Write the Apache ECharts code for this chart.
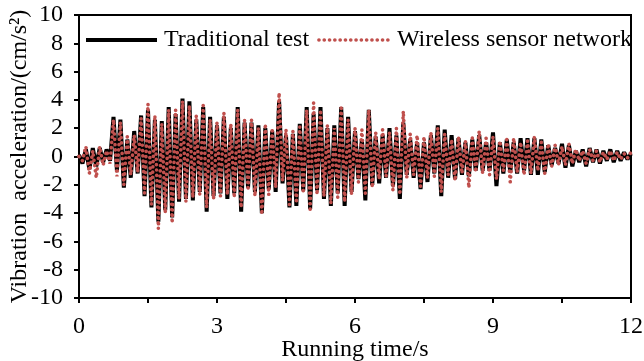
<!DOCTYPE html>
<html><head><meta charset="utf-8">
<script src="https://cdn.jsdelivr.net/npm/echarts@6/dist/echarts.min.js"></script>
<style>html,body{margin:0;padding:0;background:#fff}#c{width:644px;height:361px}</style>
</head><body><div id="c"></div>
<script>
// sampling step of the records (s)
const timeStep = 0.075;
// Traditional test (black solid line), cm/s^2
const traditional = [
  0.1, -0.5, 0.5, -0.9, 0.6, -0.7, 0.6, -0.4, 0.5, -0.3, 2.8, -1.0, 2.6, -2.2, 1.2, -1.5, 1.8, -1.2, 2.9, -2.8,
  3.3, -3.6, 2.6, -4.6, 2.5, -3.8, 3.5, -4.3, 3.0, -3.2, 4.1, -3.0, 3.9, -3.1, 2.6, -2.5, 3.5, -3.9, 2.8, -2.8,
  2.2, -2.6, 2.8, -3.0, 2.0, -2.6, 3.5, -3.9, 2.4, -2.2, 2.4, -2.5, 2.2, -4.0, 2.0, -2.3, 1.8, -2.5, 3.9, -1.9,
  1.5, -3.6, 1.6, -3.5, 2.3, -2.4, 3.5, -3.7, 3.0, -2.4, 3.5, -3.0, 2.0, -3.5, 2.2, -2.6, 3.5, -3.5, 2.8, -2.5,
  1.8, -1.6, 1.2, -3.1, 3.3, -2.0, 1.4, -1.9, 1.5, -1.5, 2.0, -2.1, 1.5, -3.0, 2.4, -1.3, 1.2, -1.5, 1.0, -2.3,
  1.0, -1.8, 1.5, -1.2, 2.2, -2.8, 1.9, -1.5, 1.5, -1.6, 1.3, -1.3, 1.0, -1.4, 1.2, -1.0, 1.5, -1.0, 1.0, -1.0,
  1.7, -2.1, 1.0, -1.2, 1.2, -1.1, 1.0, -1.2, 1.3, -1.0, 1.3, -1.3, 1.3, -1.3, 1.2, -1.1, 0.8, -0.6, 0.6, -0.5,
  0.9, -0.8, 0.8, -0.7, 0.4, -0.4, 0.5, -0.7, 0.6, -0.4, 0.5, -0.5, 0.4, -0.3, 0.5, -0.4, 0.4, -0.3, 0.3, -0.2, 0.2
];
// Wireless sensor network (red dotted line), cm/s^2
const wireless = [
  0.0, -0.3, 0.7, -1.2, 0.4, -1.5, 0.7, -0.6, 0.4, -0.5, 2.6, -1.4, 2.4, -2.0, 1.4, -1.3, 1.5, -1.1, 2.7, -2.6,
  3.7, -3.4, 2.9, -5.1, 2.3, -4.0, 3.3, -4.7, 3.3, -3.0, 3.9, -3.2, 3.6, -2.9, 2.9, -2.7, 3.6, -3.6, 2.6, -3.0,
  2.4, -2.8, 3.1, -2.7, 2.3, -2.9, 3.3, -3.6, 2.6, -2.4, 2.6, -2.8, 2.0, -4.1, 2.3, -2.7, 2.0, -2.2, 4.5, -1.7,
  1.9, -3.4, 1.8, -3.3, 2.1, -2.6, 3.3, -3.9, 3.8, -2.7, 3.3, -2.8, 2.2, -3.3, 2.0, -2.9, 3.6, -3.2, 2.6, -2.7,
  2.0, -1.8, 1.9, -2.6, 3.3, -2.2, 1.7, -1.6, 1.9, -1.4, 1.7, -2.4, 2.0, -2.7, 3.2, -1.5, 1.6, -1.3, 1.5, -2.1,
  1.4, -1.5, 1.7, -1.4, 2.0, -2.5, 1.6, -1.3, 1.2, -1.7, 1.4, -1.2, 1.1, -2.2, 1.3, -1.1, 1.8, -1.2, 1.3, -1.3,
  1.4, -1.6, 1.1, -1.0, 1.2, -1.8, 1.3, -1.1, 1.0, -1.3, 1.1, -1.2, 1.4, -1.0, 1.0, -1.2, 0.9, -0.7, 0.8, -0.6,
  0.7, -0.6, 0.9, -0.5, 0.5, -0.3, 0.4, -0.5, 0.5, -0.3, 0.4, -0.4, 0.3, -0.2, 0.4, -0.3, 0.3, -0.2, 0.2, -0.1, 0.3
];
const seriesNames = ['Traditional test', 'Wireless sensor network'];
const xLabels = [0, 3, 6, 9, 12];
const yLabels = [-10, -8, -6, -4, -2, 0, 2, 4, 6, 8, 10];

const time = traditional.map((_, i) => +(i * timeStep).toFixed(3));
const pairs = arr => arr.map((v, i) => [time[i], v]);
const FONT = "'Liberation Serif', 'Times New Roman', serif";

const chart = echarts.init(document.getElementById('c'), null, {renderer: 'canvas'});
chart.setOption({
  animation: false,
  backgroundColor: '#fff',
  textStyle: {fontFamily: FONT, color: '#000'},
  grid: {left: 79, right: 13, top: 15, bottom: 63, show: true, borderColor: '#000', borderWidth: 2,
         containLabel: false, outerBoundsMode: 'none'},
  legend: {
    left: 84, top: 28, padding: 0, itemWidth: 71, itemHeight: 14, itemGap: 8,
    textStyle: {fontFamily: FONT, fontSize: 24, color: '#000', padding: [0, 0, 0, 2]},
    itemStyle: {opacity: 0},
    lineStyle: {width: 'inherit'},
    data: seriesNames
  },
  xAxis: {
    type: 'value', min: 0, max: 12, interval: 1.5,
    name: 'Running time/s', nameLocation: 'middle', nameGap: 40, nameMoveOverlap: false,
    nameTextStyle: {fontFamily: FONT, fontSize: 24, color: '#000'},
    axisLine: {show: true, onZero: false, lineStyle: {color: '#000', width: 2}},
    axisTick: {show: true, inside: false, length: 5, lineStyle: {color: '#000', width: 2}},
    axisLabel: {margin: 17, fontFamily: FONT, fontSize: 24, color: '#000',
      formatter: v => xLabels.indexOf(v) >= 0 ? String(v) : ''},
    splitLine: {show: false}
  },
  yAxis: {
    type: 'value', min: -10, max: 10, interval: 2,
    name: 'Vibration  acceleration/(cm/s\u00B2)', nameLocation: 'middle', nameGap: 47, nameRotate: 90,
    nameMoveOverlap: false,
    nameTextStyle: {fontFamily: FONT, fontSize: 24, color: '#000'},
    axisLine: {show: true, lineStyle: {color: '#000', width: 2}},
    axisTick: {show: true, inside: false, length: 5, lineStyle: {color: '#000', width: 2}},
    axisLabel: {margin: 16, fontFamily: FONT, fontSize: 24, color: '#000',
      formatter: v => yLabels.indexOf(v) >= 0 ? String(v) : ''},
    splitLine: {show: false}
  },
  series: [
    {name: seriesNames[0], type: 'line', data: pairs(traditional), symbol: 'none', showSymbol: false,
     lineStyle: {color: '#000', width: 4}, itemStyle: {color: '#000'}, z: 2},
    {name: seriesNames[1], type: 'line', data: pairs(wireless), symbol: 'none', showSymbol: false,
     lineStyle: {color: '#C0504D', width: 3.6, type: [0.1, 5.2], cap: 'round'}, itemStyle: {color: '#C0504D'}, z: 3}
  ]
});
</script></body></html>
